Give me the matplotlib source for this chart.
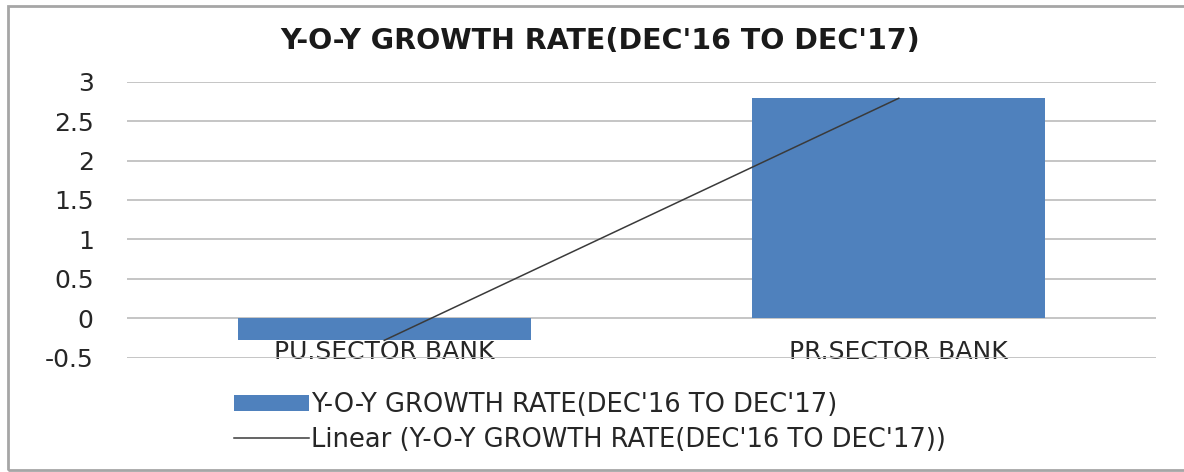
import numpy as np
import matplotlib.pyplot as plt
from matplotlib.patches import Rectangle

# growth rate per bank group
banks = ['PU.SECTOR BANK', 'PR.SECTOR BANK']
growth = [-0.28, 2.79]
series_name = "Y-O-Y GROWTH RATE(DEC'16 TO DEC'17)"
y_ticks = [-0.5, 0, 0.5, 1, 1.5, 2, 2.5, 3]

bar_color = '#4f81bd'
grid_color = '#c0c0c0'
plt.rcParams['font.family'] = ['DejaVu Sans']

fig = plt.figure(figsize=(11.84, 4.72), dpi=100)
W, H = 1184, 472
ax = fig.add_axes([127 / W, 1 - 357.7 / H, (1156 - 127) / W, (357.7 - 81.7) / H])

x = np.arange(len(banks))
bars = ax.bar(x, growth, width=0.57, color=bar_color, zorder=2, label=series_name)

# linear trendline through the bar values
coef = np.polyfit(x, growth, 1)
trend_x = np.array([x[0], x[-1]])
trend, = ax.plot(trend_x, np.polyval(coef, trend_x), color='#3a3a3a', lw=1.1,
                 zorder=3, label='Linear (' + series_name + ')')

ax.set_xlim(-0.5, 1.5)
ax.set_ylim(-0.5, 3)
ax.set_yticks(y_ticks)
ax.set_yticklabels([f'{t:g}' for t in y_ticks])
ax.yaxis.grid(True, color=grid_color, lw=1.3, zorder=0)
ax.set_axisbelow(True)
for s in ax.spines.values():
    s.set_visible(False)
ax.tick_params(axis='y', length=0, pad=24, labelsize=18, colors='#262626')

ax.set_xticks(x)
ax.set_xticklabels(banks)
ax.tick_params(axis='x', length=0, pad=1, labelsize=18, colors='#262626')
for lbl in ax.get_xticklabels():
    lbl.set_va('baseline')

fig.text(600 / W, 1 - 49 / H, series_name, ha='center', va='baseline',
         fontsize=20.5, fontweight='bold', color='#1a1a1a')

fig.legend(handles=[bars, trend], loc='upper left',
           bbox_to_anchor=(234 / W, 1 - 392 / H), frameon=False,
           fontsize=18.5, handlelength=2.9, handleheight=0.6,
           handletextpad=0.08, labelspacing=0.35, borderpad=0,
           borderaxespad=0, labelcolor='#262626')

# outer chart border
fig.patches.append(Rectangle((8 / W, 2 / H), 1.2, 1 - 8 / H, transform=fig.transFigure,
                             fill=False, edgecolor='#a6a6a6', lw=2))

fig.savefig('out.png', dpi=100)
